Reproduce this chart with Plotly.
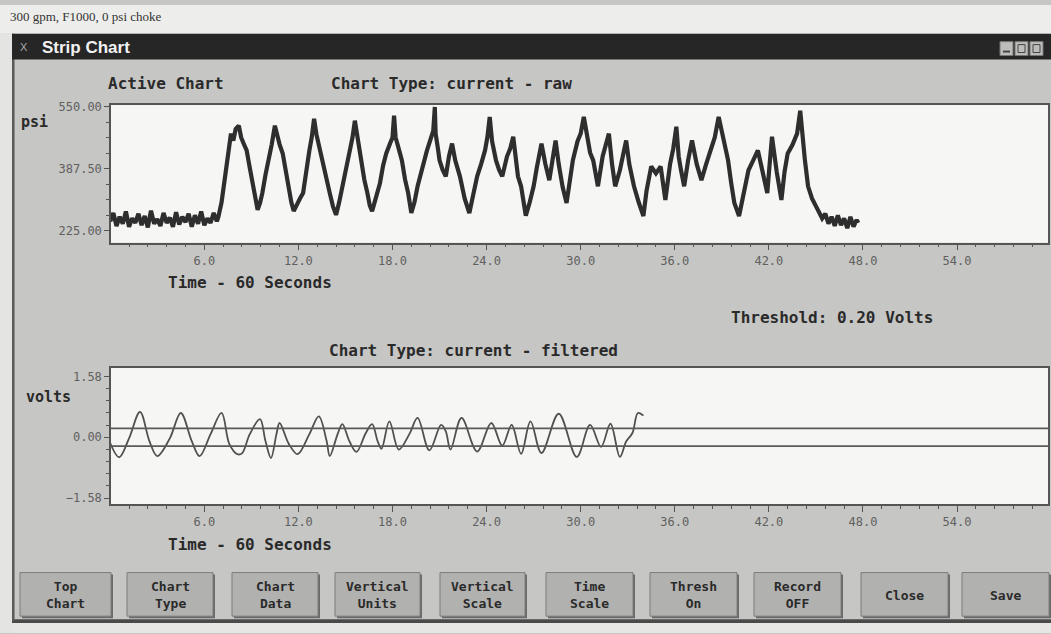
import plotly.graph_objects as go

W, H = 1051, 634

# ---------------- data ----------------
raw_time = [0.0, 0.2, 0.4, 0.6, 0.8, 1.0, 1.2, 1.4, 1.6, 1.8, 2.0, 2.2, 2.4, 2.6, 2.8, 3.0,
            3.2, 3.4, 3.6, 3.8, 4.0, 4.2, 4.4, 4.6, 4.8, 5.0, 5.2, 5.4, 5.6, 5.8, 6.0, 6.2,
            6.4, 6.6, 6.8,
            6.9, 7.1, 7.2, 7.4, 7.55, 7.7, 7.85, 8.0, 8.2, 8.35, 8.5, 8.7, 8.9, 9.1, 9.25,
            9.4, 9.55, 9.7, 9.9, 10.1, 10.3, 10.5, 10.65, 10.8, 11.0, 11.2, 11.4, 11.55,
            11.7, 11.9, 12.1, 12.3, 12.5, 12.7, 12.85, 13.0, 13.15, 13.3, 13.5, 13.75, 14.0,
            14.2, 14.4, 14.6, 14.8, 15.05, 15.3, 15.45, 15.6, 15.8, 16.0, 16.2, 16.4, 16.55,
            16.7, 16.95, 17.2, 17.4, 17.6, 17.85, 18.0, 18.1, 18.2, 18.4, 18.6, 18.8, 19.0,
            19.2, 19.4, 19.6, 19.9, 20.2, 20.4, 20.6, 20.7, 20.75, 20.9, 21.0, 21.2, 21.4,
            21.6, 21.8, 22.0, 22.3, 22.6, 22.9, 23.15, 23.4, 23.65, 23.9, 24.05, 24.2, 24.35,
            24.6, 24.8, 25.0, 25.3, 25.5, 25.7, 25.85, 26.0, 26.2, 26.5, 26.75, 27.0, 27.2,
            27.5, 27.75, 28.0, 28.2, 28.4, 28.6, 28.85, 29.1, 29.3, 29.5, 29.8, 30.0, 30.2,
            30.4, 30.6, 30.8, 31.1, 31.4, 31.6, 31.8, 32.0, 32.2, 32.5, 32.7, 32.9, 33.1,
            33.4, 33.7, 34.0, 34.2, 34.5, 34.8, 35.1, 35.25, 35.4, 35.7, 35.9, 36.1, 36.25,
            36.4, 36.6, 36.85, 37.1, 37.4, 37.7, 38.0, 38.3, 38.55, 38.8, 39.1, 39.4, 39.6,
            39.8, 40.1, 40.4, 40.7, 41.0, 41.3, 41.6, 41.9, 42.05, 42.2, 42.5, 42.8, 43.0,
            43.2, 43.5, 43.8, 44.0, 44.15, 44.3, 44.5, 44.75, 45.0,
            45.2, 45.4, 45.6, 45.8, 46.0, 46.2, 46.4, 46.6, 46.8, 47.0, 47.2, 47.4, 47.6, 47.7]
raw_psi = [250, 272, 238, 262, 244, 276, 236, 258, 246, 270, 240, 264, 234, 278, 244, 256,
           238, 272, 246, 260, 236, 274, 242, 262, 248, 270, 236, 266, 244, 276, 240, 258,
           246, 272, 250,
           262, 300, 332, 390, 440, 480, 462, 492, 501, 470, 455, 436, 390, 342, 300,
           280, 298, 324, 372, 410, 452, 501, 470, 452, 428, 380, 342, 300,
           277, 296, 310, 324, 390, 436, 470, 519, 478, 450, 410, 360, 324,
           290, 267, 300, 342, 392, 436, 470, 514, 462, 410, 360, 324, 292,
           277, 318, 350, 396, 428, 455, 470, 527, 470, 440, 410, 360, 324,
           272, 300, 342, 392, 436, 462, 488, 550, 480, 440, 410, 385, 368,
           420, 454, 410, 368, 310, 272, 320, 368, 400, 436, 470, 524, 460,
           410, 385, 368, 420, 440, 472, 410, 368, 342, 265, 300, 342, 390,
           454, 400, 358, 410, 462, 400, 340, 298, 350, 410, 460, 480, 524,
           470, 430, 410, 342, 420, 450, 480, 400, 342, 384, 420, 462, 400,
           342, 300, 264, 330, 394, 376, 394, 350, 306, 400, 440, 498, 420,
           384, 342, 410, 462, 400, 358, 400, 436, 470, 524, 460, 410, 350,
           298, 264, 330, 384, 410, 436, 380, 324, 400, 472, 380, 306, 380,
           428, 450, 480, 540, 470, 410, 342, 310, 290,
           275, 258, 270, 244, 262, 238, 266, 240, 258, 232, 262, 236, 254, 246]

filt_time = [0.0, 0.57, 1.2, 1.9, 2.5, 3.0, 3.8, 4.5, 5.2, 5.7, 6.4, 7.1, 7.6, 8.1, 8.4,
             8.9, 9.55, 9.9, 10.25, 10.6, 10.8, 11.4, 11.95, 12.7, 13.3, 13.8, 14.0, 14.5,
             14.8, 15.25, 15.7, 16.3, 16.7, 17.05, 17.3, 17.8, 18.4, 19.1, 19.6, 20.35,
             21.1, 21.4, 21.7, 22.4, 23.4, 24.3, 25.0, 25.6, 26.2, 26.8, 27.5, 28.6, 29.75,
             30.6, 31.3, 31.9, 32.5, 32.9, 33.3, 33.65, 34.0]
filt_volts = [-0.15, -0.52, -0.03, 0.66, -0.10, -0.49, -0.03, 0.63, -0.10, -0.49, 0.08,
              0.63, -0.18, -0.44, -0.42, 0.08, 0.47, -0.10, -0.54, 0.08, 0.37, -0.18, -0.44,
              0.08, 0.54, -0.10, -0.49, 0.08, 0.34, -0.10, -0.38, 0.11, 0.34, -0.10, -0.30,
              0.41, -0.32, 0.10, 0.50, -0.34, 0.32, 0.15, -0.32, 0.50, -0.37, 0.37, -0.22,
              0.32, -0.43, 0.41, -0.41, 0.61, -0.51, 0.32, -0.25, 0.35, -0.51, -0.11, 0.11,
              0.63, 0.56]

threshold_volts = [0.23, -0.23]

time_ticks = [6, 12, 18, 24, 30, 36, 42, 48, 54]
psi_ticks = [225.0, 387.5, 550.0]
volt_ticks = [-1.58, 0.0, 1.58]

button_labels = ["Top<br>Chart", "Chart<br>Type", "Chart<br>Data", "Vertical<br>Units",
                 "Vertical<br>Scale", "Time<br>Scale", "Thresh<br>On", "Record<br>OFF",
                 "Close", "Save"]

caption = "300 gpm, F1000, 0 psi choke"
window_title = "Strip Chart"

# ---------------- layout helpers ----------------
def px(x):
    return x / W


def py(y):
    return 1 - y / H


MONO = "DejaVu Sans Mono"
INK = "#2a2a2a"
WINDOW = "#c6c6c4"

fig = go.Figure()

fig.add_trace(go.Scatter(x=raw_time, y=raw_psi, mode="lines",
                         line=dict(color="#2e2e2e", width=4.2),
                         xaxis="x", yaxis="y", hoverinfo="skip", showlegend=False))
fig.add_trace(go.Scatter(x=filt_time, y=filt_volts, mode="lines",
                         line=dict(color="#505050", width=1.8, shape="spline", smoothing=1.0),
                         xaxis="x2", yaxis="y2", hoverinfo="skip", showlegend=False))

shapes = []
for lv in threshold_volts:
    shapes.append(dict(type="line", xref="x2 domain", yref="y2", x0=0, x1=1, y0=lv, y1=lv,
                       line=dict(color="#5a5a5a", width=1.6), layer="above"))

axis_common = dict(showline=True, mirror=True, linecolor="#555555", linewidth=1.5,
                   showgrid=False, zeroline=False, ticks="outside", tickcolor="#555555",
                   tickfont=dict(family=MONO, size=12, color="#606060"))

x_dom = [px(111), px(1048)]

fig.update_layout(
    width=W, height=H, autosize=False,
    margin=dict(l=0, r=0, t=0, b=0),
    paper_bgcolor=WINDOW, plot_bgcolor="#f6f6f4",
    xaxis=dict(domain=x_dom, anchor="y", range=[0.05, 59.8], tickmode="array",
               tickvals=time_ticks, ticktext=[f"{v:.1f}" for v in time_ticks], ticklen=6,
               minor=dict(tick0=0, dtick=1.2, ticks="outside", ticklen=3, tickcolor="#555555"),
               **axis_common),
    yaxis=dict(domain=[py(240), py(101)], anchor="x", range=[194, 555], tick0=225,
               dtick=162.5, tickformat=".2f", ticklen=5,
               minor=dict(tick0=225, dtick=40.625, ticks="outside", ticklen=3,
                          tickcolor="#555555"),
               **axis_common),
    xaxis2=dict(domain=x_dom, anchor="y2", range=[0.05, 59.8], tickmode="array",
                tickvals=time_ticks, ticktext=[f"{v:.1f}" for v in time_ticks], ticklen=6,
                minor=dict(tick0=0, dtick=1.2, ticks="outside", ticklen=3, tickcolor="#555555"),
                **axis_common),
    yaxis2=dict(domain=[py(504), py(366)], anchor="x2", range=[-1.74, 1.81], tick0=-1.58,
                dtick=1.58, tickformat=".2f", ticklen=5,
                minor=dict(tick0=-1.58, dtick=0.316, ticks="outside", ticklen=3,
                           tickcolor="#555555"),
                **axis_common),
)


def rect(x0, y0, x1, y1, fill, line_color=None, lw=0):
    shapes.append(dict(type="rect", xref="paper", yref="paper", x0=px(x0), x1=px(x1),
                       y0=py(y1), y1=py(y0), fillcolor=fill, layer="below",
                       line=dict(color=line_color or fill, width=lw)))


# page around the window
rect(0, 0, W, 29, "#ededeb")
rect(0, 29, 12, H, "#e4e4e2")
rect(12, 622, W, H, "#e6e6e4")
rect(12, 620, W, 624, "#4a4a4a")
rect(12, 29, 14.5, 622, "#5a5a5a")
# title bar
rect(12, 29, W, 55, "#262626")
for bx in (1000, 1015, 1030):
    rect(bx, 37, bx + 13, 51, "#bdbdbb", "#777777", 1)
rect(1003, 46, 1010, 48, "#444444")
rect(1018, 40, 1025, 48, "#bdbdbb", "#444444", 1)
rect(1033, 40, 1040, 48, "#bdbdbb", "#444444", 1)

# buttons
button_x = [(20, 111), (127, 213), (232, 318), (335, 420), (440, 525), (546, 633),
            (650, 737), (754, 841), (861, 948), (962, 1049)]
annotations = []
for (bx0, bx1), lab in zip(button_x, button_labels):
    rect(bx0 + 2, 575, bx1 + 2, 619, "#6a6a6a")
    rect(bx0, 573, bx1, 617, "#b1b1af", "#7d7d7b", 1)
    annotations.append(dict(x=px((bx0 + bx1) / 2), y=py(596), text=f"<b>{lab}</b>",
                            font=dict(family=MONO, size=13, color=INK)))

fig.update_layout(shapes=shapes)


def label(x, y, text, size=16, anchor="center", color=INK, family=MONO, bold=True):
    annotations.append(dict(x=px(x), y=py(y), text=f"<b>{text}</b>" if bold else text,
                            xanchor=anchor, font=dict(family=family, size=size, color=color)))


label(8, 12, caption, size=13, anchor="left", color="#333333", family="Liberation Serif",
      bold=False)
label(24, 42, "X", size=11, color="#aaaaaa", family="Liberation Sans", bold=False)
label(40, 43, window_title, size=17, anchor="left", color="#f2f2f2", family="Liberation Sans")
label(166, 79, "Active Chart")
label(451, 79, "Chart Type: current - raw")
label(34, 118, "psi", size=15)
label(250, 280, "Time - 60 Seconds")
label(832, 315, "Threshold: 0.20 Volts")
label(473, 349, "Chart Type: current - filtered")
label(48, 396, "volts", size=15)
label(250, 545, "Time - 60 Seconds")

for a in annotations:
    a.update(xref="paper", yref="paper", showarrow=False, yanchor="middle")
    a.setdefault("xanchor", "center")
fig.update_layout(annotations=annotations)

fig.write_html(
    "out.html",
    config={"responsive": False, "displayModeBar": False},
    post_script="document.body.style.margin='0px';document.body.style.padding='0px';"
                "document.documentElement.style.overflow='hidden';",
)
